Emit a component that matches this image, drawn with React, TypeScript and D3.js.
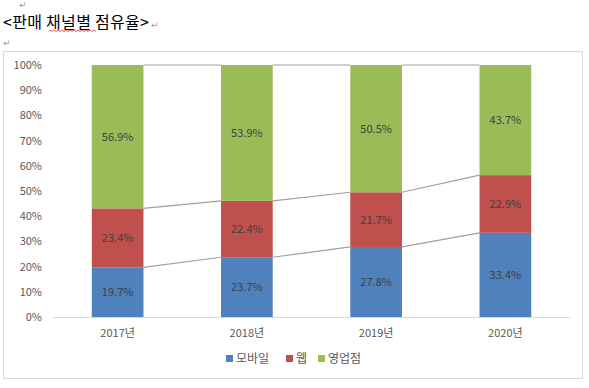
import * as d3 from "d3"
import { useEffect, useRef } from "react"

const years = ["2017년", "2018년", "2019년", "2020년"]
const seriesNames = ["모바일", "웹", "영업점"]
const seriesColors = ["#4f81bd", "#c0504d", "#9bbb59"]
const mobile = [19.7, 23.7, 27.8, 33.4]
const web = [23.4, 22.4, 21.7, 22.9]
const store = [56.9, 53.9, 50.5, 43.7]
const yTicks = [0, 10, 20, 30, 40, 50, 60, 70, 80, 90, 100]

const WIDTH = 589
const HEIGHT = 388
const FONT = "'Noto Sans CJK KR', 'Noto Sans', sans-serif"

const App = () => {
  const svgRef = useRef<SVGSVGElement>(null)

  useEffect(() => {
    if (!svgRef.current) return
    const svg = d3.select(svgRef.current)
    svg.selectAll("*").remove()

    // Word paragraph marks + title
    const marks = [
      [19, 8],
      [151, 28],
      [3, 46],
    ]
    svg
      .selectAll("text.mark")
      .data(marks)
      .join("text")
      .attr("class", "mark")
      .attr("x", (d) => d[0])
      .attr("y", (d) => d[1])
      .attr("font-family", "'DejaVu Sans'")
      .attr("font-size", "9px")
      .attr("fill", "#9a9a9a")
      .text("↵")

    svg
      .append("text")
      .attr("x", 3)
      .attr("y", 28)
      .attr("font-family", FONT)
      .attr("font-size", "16px")
      .attr("letter-spacing", "0.3px")
      .attr("fill", "#000")
      .text("<판매 채널별 점유율>")

    // spell-check squiggle under 채널별
    const sq = d3.path()
    sq.moveTo(49, 31.5)
    for (let x = 49; x < 97; x += 2) sq.lineTo(x + 1, (x - 49) % 4 === 0 ? 30 : 31.5)
    svg
      .append("path")
      .attr("d", sq.toString())
      .attr("fill", "none")
      .attr("stroke", "#e03030")
      .attr("stroke-width", 0.8)

    // chart frame
    svg
      .append("rect")
      .attr("x", 3.5)
      .attr("y", 51.5)
      .attr("width", 579)
      .attr("height", 327)
      .attr("fill", "#fff")
      .attr("stroke", "#d9d9d9")

    const MARGIN = { top: 65, bottom: 317, left: 53, right: 570 }

    const x = d3
      .scaleBand()
      .domain(years)
      .range([MARGIN.left, MARGIN.right])
      .paddingInner(0.6)
      .paddingOuter(0.3)

    const y = d3.scaleLinear().domain([0, 100]).range([MARGIN.bottom, MARGIN.top])

    const rows = years.map((yr, i) => ({ year: yr, m: mobile[i], w: web[i], s: store[i] }))
    const stack = d3.stack<any>().keys(["m", "w", "s"])(rows)

    // y axis labels
    svg
      .selectAll("text.ytick")
      .data(yTicks)
      .join("text")
      .attr("class", "ytick")
      .attr("x", 42)
      .attr("y", (d) => y(d) + 4)
      .attr("text-anchor", "end")
      .attr("font-family", FONT)
      .attr("font-size", "11px")
      .attr("fill", "#595959")
      .text((d) => d + "%")

    // baseline
    svg
      .append("line")
      .attr("x1", MARGIN.left)
      .attr("x2", MARGIN.right)
      .attr("y1", y(0) + 0.5)
      .attr("y2", y(0) + 0.5)
      .attr("stroke", "#d9d9d9")

    // series lines
    stack.forEach((layer) => {
      for (let i = 0; i < layer.length - 1; i++) {
        svg
          .append("line")
          .attr("x1", x(years[i])! + x.bandwidth())
          .attr("y1", y(layer[i][1]))
          .attr("x2", x(years[i + 1])!)
          .attr("y2", y(layer[i + 1][1]))
          .attr("stroke", "#a0a0a0")
          .attr("stroke-width", 1.2)
      }
    })

    // bars
    stack.forEach((layer, si) => {
      svg
        .append("g")
        .selectAll("rect")
        .data(layer)
        .join("rect")
        .attr("x", (d) => x(d.data.year)!)
        .attr("y", (d) => y(d[1]))
        .attr("width", x.bandwidth())
        .attr("height", (d) => y(d[0]) - y(d[1]))
        .attr("fill", seriesColors[si])

      svg
        .append("g")
        .selectAll("text")
        .data(layer)
        .join("text")
        .attr("x", (d) => x(d.data.year)! + x.bandwidth() / 2)
        .attr("y", (d) => y((d[0] + d[1]) / 2) + 4)
        .attr("text-anchor", "middle")
        .attr("font-family", FONT)
        .attr("font-size", "11px")
        .attr("fill", "#404040")
        .text((d) => (d[1] - d[0]).toFixed(1) + "%")
    })

    // x axis labels
    svg
      .selectAll("text.xtick")
      .data(years)
      .join("text")
      .attr("class", "xtick")
      .attr("x", (d) => x(d)! + x.bandwidth() / 2)
      .attr("y", 337)
      .attr("text-anchor", "middle")
      .attr("font-family", FONT)
      .attr("font-size", "11px")
      .attr("fill", "#595959")
      .text((d) => d)

    // legend
    const legendX = [226, 286, 318]
    const lg = svg
      .selectAll("g.legend")
      .data(seriesNames)
      .join("g")
      .attr("class", "legend")
      .attr("transform", (_, i) => `translate(${legendX[i]}, 361)`)
    lg.append("rect")
      .attr("x", 0)
      .attr("y", -6)
      .attr("width", 7)
      .attr("height", 7)
      .attr("fill", (_, i) => seriesColors[i])
    lg.append("text")
      .attr("x", 10)
      .attr("y", 2)
      .attr("font-family", FONT)
      .attr("font-size", "12px")
      .attr("fill", "#595959")
      .text((d) => d)
  }, [])

  return (
    <div style={{ position: "absolute", left: 0, top: 0 }}>
      <svg ref={svgRef} width={WIDTH} height={HEIGHT} style={{ display: "block" }} />
    </div>
  )
}

export default App
